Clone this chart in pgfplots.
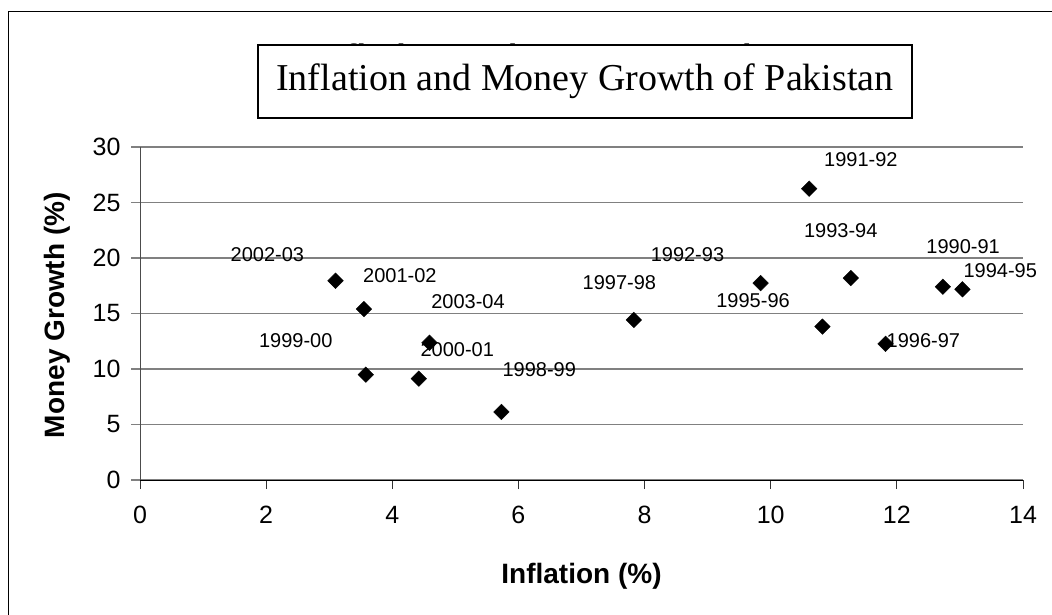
\documentclass[border=0pt]{standalone}
\usepackage{pgfplots}
\pgfplotsset{compat=1.18}
\usepackage{fontspec}
\setmainfont{Liberation Sans}
\newfontfamily\seriffont{Liberation Serif}
\begin{document}
\begin{tikzpicture}
\useasboundingbox (0pt,0pt) rectangle (1052pt,614pt);
% outer frame (continues beyond the page)
\draw[line width=1pt] (1100pt,602pt) -- (8pt,602pt) -- (8pt,-50pt);
% hidden bold title behind the box
\node[anchor=base, font=\fontsize{34}{34}\selectfont\bfseries] at (539pt,545pt) {Inflation and Money Growth};
\begin{axis}[
  at={(140pt,134pt)}, anchor=south west,
  scale only axis, width=883pt, height=333pt,
  xmin=0, xmax=14, ymin=0, ymax=30,
  xtick={0,2,...,14}, ytick={0,5,...,30},
  axis x line*=bottom, axis y line*=left,
  axis line style={line width=0.8pt, -},
  y axis line style={black!70},
  ymajorgrids,
  grid style={line width=1.4pt, color=black!50},
  tick align=outside, major tick length=9pt,
  xtick style={black!80, line width=0.8pt},
  ytick style={black!50, line width=1.4pt},
  ticklabel style={font=\fontsize{25}{25}\selectfont},
  /pgf/number format/assume math mode=true,
  xticklabel style={yshift=-14pt},
  yticklabel style={xshift=-7pt},
  xlabel={\bfseries Inflation (\%)},
  ylabel={\bfseries Money Growth (\%)},
  label style={font=\fontsize{28}{28}\selectfont},
  xlabel style={at={(axis description cs:0.5,-0.29)}, anchor=center},
  ylabel style={at={(axis description cs:-0.094,0.495)}, anchor=center},
  clip=false,
]
\addplot[only marks, mark=square*, mark size=5.5pt, mark options={rotate=45, fill=black, draw=black}] table {
x y
12.73 17.41
10.61 26.24
9.84 17.74
11.27 18.19
13.04 17.18
10.82 13.82
11.82 12.27
7.83 14.42
5.73 6.13
3.58 9.49
4.42 9.13
3.55 15.40
3.10 17.95
4.59 12.36
};
\begin{scope}[every node/.style={font=\fontsize{20}{20}\selectfont, inner sep=0pt}]
\node at (axis cs:2.02,20.29) {2002-03};
\node at (axis cs:4.12,18.40) {2001-02};
\node at (axis cs:5.20,16.10) {2003-04};
\node at (axis cs:2.47,12.57) {1999-00};
\node at (axis cs:5.03,11.73) {2000-01};
\node at (axis cs:6.33,9.94) {1998-99};
\node at (axis cs:7.60,17.80) {1997-98};
\node at (axis cs:8.68,20.29) {1992-93};
\node at (axis cs:9.72,16.16) {1995-96};
\node at (axis cs:11.43,28.88) {1991-92};
\node at (axis cs:11.11,22.44) {1993-94};
\node at (axis cs:13.05,21.00) {1990-91};
\node at (axis cs:13.64,18.85) {1994-95};
\node at (axis cs:12.42,12.57) {1996-97};
\end{scope}
\end{axis}
% boxed title
\node[draw, fill=white, line width=1.2pt, minimum width=654pt, minimum height=73pt,
      font=\seriffont\fontsize{38}{38}\selectfont] at (585pt,532.5pt) {Inflation and Money Growth of Pakistan};
\end{tikzpicture}
\end{document}
